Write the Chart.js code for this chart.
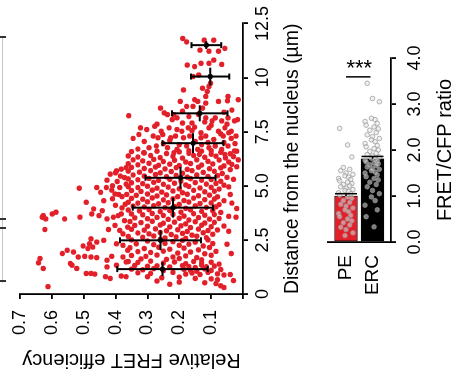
<!DOCTYPE html>
<html><head><meta charset="utf-8">
<script src="https://cdn.jsdelivr.net/npm/chart.js@4/dist/chart.umd.min.js"></script>
<style>
html,body{margin:0;padding:0;background:#fff;width:457px;height:383px;overflow:hidden;}
#rot{position:absolute;left:0;top:0;width:383px;height:457px;transform-origin:0 0;transform:translate(0,383px) rotate(-90deg);}
#sc{position:absolute;left:0;top:0;width:383px;height:305px;}
#bc{position:absolute;left:0;top:305px;width:383px;height:152px;}
.vl{position:absolute;left:2px;top:37px;width:1px;height:246px;background:#c8c8c8;}
.tk{position:absolute;left:0;width:6px;height:2px;background:#333;}
</style></head><body>
<div class="vl"></div><div class="tk" style="top:36px"></div><div class="tk" style="top:218px"></div><div class="tk" style="top:227px"></div><div class="tk" style="top:280px"></div>
<div id="rot"><div id="sc"><canvas id="c1" width="383" height="305"></canvas></div><div id="bc"><canvas id="c2" width="383" height="152"></canvas></div></div>
<script>
// ---------- data ----------
const distanceTickLabels = ["0","2.5","5.0","7.5","10","12.5"];
const fretTickLabels = ["","0.1","0.2","0.3","0.4","0.5","0.6","0.7"];
const ratioTickLabels = ["0.0","1.0","2.0","3.0","4.0"];
const groups = ["PE","ERC"];
const groupMeans = [1.0, 1.81];
const groupSEM = [0.05, 0.05];
const sigLineAt = 3.59, sigStarsAt = 3.9, sigLabel = "***";
const peValues = [2.47,2.11,1.85,1.62,1.58,1.55,1.5,1.47,1.44,1.41,1.38,1.36,1.33,1.3,1.27,1.25,1.22,1.2,1.17,1.14,1.12,1.1,1.07,1.05,1.02,0.98,0.95,0.9,0.86,0.82,0.78,0.74,0.7,0.66,0.62,0.58,0.55,0.5,0.46,0.42,0.37,0.32,0.27,0.2,0.14];
const ercValues = [3.45,3.12,3.05,2.69,2.66,2.62,2.58,2.54,2.5,2.46,2.43,2.38,2.33,2.29,2.25,2.22,2.18,2.14,2.1,2.07,2.03,2.0,1.97,1.93,1.9,1.87,1.85,1.82,1.8,1.78,1.76,1.74,1.72,1.7,1.68,1.66,1.63,1.6,1.58,1.55,1.52,1.5,1.46,1.42,1.38,1.35,1.3,1.25,1.2,1.12,1.05,0.98,0.9,0.8,0.7,0.55,0.33];
// binned means (distance µm, FRET) with SD
const binDistance = [11.5,10.05,8.35,6.97,5.37,3.99,2.48,1.15];
const binFret     = [0.115,0.103,0.136,0.157,0.196,0.22,0.259,0.253];
const binFretSD   = [0.047,0.06,0.087,0.096,0.11,0.126,0.127,0.142];
const binDistSD   = [0.18,0.41,0.37,0.46,0.5,0.46,0.46,0.32];
// single-cell points [distance, FRET]
const cellsFar = [[11.81,0.189],[11.65,0.177],[11.73,0.122],[11.73,0.092],[11.27,0.135],[11.22,0.107],[11.22,0.077],[11.35,0.057],[10.58,0.175],[10.51,0.152],[10.66,0.132],[10.66,0.107],[10.81,0.092],[10.61,0.067],[10.12,0.139],[10.05,0.157],[9.74,0.102],[9.43,0.187],[9.51,0.127],[9.36,0.112],[9.59,0.107],[8.98,0.152],[8.9,0.142],[9.13,0.117],[8.82,0.117],[9.13,0.047],[8.93,0.049],[8.9,0.077],[8.98,0.015],[8.9,0.197],[8.67,0.177],[8.67,0.157],[8.59,0.127],[8.59,0.259],[8.37,0.247],[8.29,0.237],[8.29,0.217],[8.14,0.207],[8.06,0.222],[8.24,0.359],[8.14,0.117],[8.0,0.097],[8.14,0.087],[8.0,0.067],[8.14,0.047],[8.0,0.027],[8.06,0.017],[7.68,0.322],[7.6,0.302],[7.75,0.277],[7.52,0.257],[7.68,0.232],[7.6,0.207],[7.52,0.192],[7.68,0.172],[7.71,0.152],[7.45,0.132],[7.68,0.107],[7.52,0.077],[7.68,0.057],[7.52,0.037],[7.19,0.345],[7.37,0.327],[7.3,0.282],[7.22,0.267],[7.37,0.252],[7.22,0.227],[7.3,0.212],[7.22,0.187],[7.3,0.167],[7.22,0.132],[7.3,0.117],[7.14,0.092],[7.3,0.062],[7.19,0.037],[7.3,0.022],[6.76,0.295],[6.84,0.272],[6.76,0.237],[6.68,0.207],[6.84,0.177],[6.68,0.142],[6.76,0.107],[6.84,0.087],[6.68,0.067],[6.84,0.047],[6.61,0.027],[6.53,0.312],[6.53,0.217],[6.45,0.137],[6.45,0.057],
[8.4,0.06],[8.5,0.035],[8.3,0.14],[7.9,0.16],[7.85,0.05],[7.95,0.12],[7.4,0.07],[7.45,0.045],[7.05,0.15],[7.0,0.11],[7.0,0.06],[6.95,0.025],[6.9,0.2],[6.95,0.25],[7.05,0.31],[7.85,0.27],[7.9,0.19],[8.45,0.19],[6.62,0.17],[6.62,0.1],[6.7,0.33],[7.1,0.23],[7.55,0.16],[7.8,0.1],[8.2,0.17],[6.9,0.13]];
const cellsLowFret = [[4.89,0.514],[3.62,0.627],[3.47,0.619],[3.55,0.63],[3.7,0.599],[3.78,0.587],[2.98,0.622],[3.47,0.56],[3.55,0.512],[4.24,0.492],[4.92,0.459],[4.7,0.447],[4.92,0.429],[4.31,0.437],[5.26,0.427],[4.8,0.412],[4.62,0.402],[5.54,0.417],[5.69,0.397],[5.77,0.382],[5.84,0.367],[5.38,0.372],[5.08,0.367],[4.92,0.387],[3.93,0.469],[3.7,0.475],[3.62,0.452],[3.85,0.442],[3.47,0.427],[3.55,0.407],[3.62,0.392],[3.7,0.382],[3.39,0.372],[3.09,0.362],[2.98,0.422],[3.17,0.402],[2.94,0.387],[2.78,0.377],[2.55,0.477],[2.32,0.482],[2.17,0.472],[2.1,0.487],[2.22,0.502],[2.4,0.459],[2.48,0.437],[2.32,0.397],[2.25,0.377],[2.02,0.362],[1.87,0.567],[2.02,0.552],[1.94,0.532],[1.71,0.517],[1.74,0.497],[1.71,0.477],[1.68,0.459],[1.56,0.427],[1.74,0.412],[1.33,0.397],[1.71,0.377],[1.48,0.367],[1.33,0.537],[1.18,0.522],[1.41,0.542],[1.64,0.637],[1.44,0.642],[1.18,0.627],[0.95,0.492],[0.95,0.477],[0.92,0.465],[1.25,0.427],[0.8,0.432],[0.72,0.417],[0.83,0.382],[0.8,0.367],[0.34,0.612],
[5.6,0.4],[5.2,0.395],[5.0,0.41],[4.5,0.38],[4.4,0.41],[4.1,0.4],[3.98,0.38],[4.15,0.37],[4.6,0.39],[5.45,0.385]];
const cellsCore = [
[6.58,0.35],[6.52,0.31],[6.6,0.27],[6.49,0.24],[6.57,0.2],[6.5,0.17],[6.6,0.13],[6.46,0.1],[6.55,0.07],[6.48,0.04],[6.6,0.02],
[6.38,0.36],[6.33,0.33],[6.4,0.29],[6.3,0.26],[6.36,0.22],[6.28,0.19],[6.4,0.155],[6.32,0.12],[6.37,0.085],[6.29,0.055],[6.35,0.03],
[6.2,0.345],[6.15,0.315],[6.22,0.28],[6.12,0.25],[6.18,0.215],[6.1,0.18],[6.2,0.145],[6.13,0.11],[6.19,0.075],[6.1,0.045],[6.2,0.015],
[6.02,0.36],[5.97,0.33],[6.04,0.295],[5.95,0.265],[6.0,0.23],[5.93,0.2],[6.03,0.165],[5.96,0.13],[6.01,0.095],[5.92,0.06],[5.99,0.035],
[5.85,0.35],[5.8,0.31],[5.87,0.275],[5.78,0.245],[5.84,0.21],[5.76,0.175],[5.86,0.14],[5.79,0.105],[5.83,0.07],[5.75,0.04],[5.88,0.02],
[5.68,0.36],[5.63,0.325],[5.7,0.29],[5.6,0.26],[5.66,0.225],[5.58,0.19],[5.7,0.16],[5.62,0.125],[5.67,0.09],[5.57,0.065],
[5.5,0.345],[5.45,0.31],[5.52,0.275],[5.42,0.24],[5.48,0.21],[5.4,0.175],[5.5,0.145],[5.43,0.11],[5.47,0.08],[5.39,0.05],
[5.32,0.36],[5.28,0.33],[5.34,0.295],[5.25,0.265],[5.3,0.23],[5.22,0.195],[5.33,0.165],[5.26,0.13],[5.29,0.1],[5.21,0.07],[5.3,0.03],
[5.14,0.35],[5.1,0.315],[5.16,0.28],[5.07,0.25],[5.12,0.215],[5.04,0.18],[5.15,0.15],[5.08,0.115],[5.11,0.085],[5.03,0.06],
[4.96,0.36],[4.92,0.33],[4.98,0.3],[4.89,0.27],[4.94,0.235],[4.86,0.2],[4.97,0.17],[4.9,0.135],[4.93,0.1],[4.85,0.075],[4.95,0.045],
[4.78,0.35],[4.74,0.32],[4.8,0.285],[4.71,0.255],[4.76,0.22],[4.68,0.19],[4.79,0.155],[4.72,0.12],[4.75,0.09],
[4.6,0.365],[4.56,0.335],[4.62,0.3],[4.53,0.27],[4.58,0.24],[4.5,0.205],[4.61,0.175],[4.54,0.14],[4.57,0.105],[4.49,0.08],[4.6,0.04],
[4.42,0.35],[4.38,0.315],[4.44,0.285],[4.35,0.25],[4.4,0.22],[4.32,0.185],[4.43,0.155],[4.36,0.12],[4.39,0.09],[4.31,0.06],
[4.24,0.36],[4.2,0.33],[4.26,0.3],[4.17,0.265],[4.22,0.235],[4.14,0.2],[4.25,0.17],[4.18,0.135],[4.21,0.1],[4.13,0.075],
[4.06,0.345],[4.02,0.31],[4.08,0.28],[3.99,0.245],[4.04,0.215],[3.96,0.18],[4.07,0.15],[4.0,0.115],[4.03,0.085],[3.95,0.02],
[3.88,0.36],[3.84,0.325],[3.9,0.295],[3.81,0.26],[3.86,0.23],[3.78,0.195],[3.89,0.165],[3.82,0.13],[3.85,0.095],[3.77,0.07],
[3.7,0.35],[3.66,0.315],[3.72,0.285],[3.63,0.25],[3.68,0.22],[3.6,0.185],[3.71,0.155],[3.64,0.12],[3.67,0.09],[3.59,0.045],
[3.52,0.34],[3.48,0.3],[3.54,0.27],[3.45,0.235],[3.5,0.2],[3.42,0.17],[3.53,0.14],[3.46,0.105],[3.49,0.075],
[3.35,0.355],[3.3,0.32],[3.36,0.285],[3.27,0.25],[3.32,0.215],[3.24,0.18],[3.34,0.15],[3.28,0.12],[3.31,0.09],
[3.17,0.34],[3.13,0.3],[3.19,0.26],[3.1,0.23],[3.15,0.195],[3.07,0.165],[3.18,0.13],[3.11,0.1],[3.14,0.06],
[2.99,0.35],[2.95,0.31],[3.01,0.275],[2.92,0.24],[2.97,0.205],[2.89,0.175],[3.0,0.14],[2.93,0.11],[2.96,0.08],
[2.82,0.33],[2.78,0.295],[2.84,0.26],[2.75,0.225],[2.8,0.19],[2.72,0.16],[2.83,0.125],[2.76,0.095],
[2.66,0.36],[2.62,0.315],[2.68,0.28],[2.59,0.245],[2.64,0.21],[2.57,0.18],[2.67,0.145],[2.6,0.115],
[2.5,0.35],[2.45,0.3],[2.52,0.26],[2.42,0.22],[2.48,0.19],[2.4,0.15],[2.5,0.11],
[2.32,0.335],[2.28,0.28],[2.34,0.245],[2.25,0.2],[2.3,0.17],[2.22,0.125],[2.33,0.095],
[2.14,0.355],[2.1,0.31],[2.16,0.265],[2.07,0.23],[2.12,0.185],[2.04,0.14],[2.15,0.105],
[1.96,0.33],[1.92,0.29],[1.98,0.25],[1.89,0.205],[1.94,0.165],[1.86,0.12],[1.97,0.085],
[1.78,0.35],[1.74,0.305],[1.8,0.27],[1.71,0.22],[1.76,0.18],[1.68,0.145],[1.79,0.1],
[1.62,0.32],[1.6,0.24],[1.64,0.2],[1.58,0.13],
[1.5,0.36],[1.46,0.33],[1.52,0.29],[1.43,0.25],[1.48,0.215],[1.4,0.18],[1.5,0.155],[1.44,0.13],[1.47,0.1],[1.38,0.075],
[1.32,0.34],[1.28,0.3],[1.3,0.27],[1.25,0.23],[1.31,0.19],[1.27,0.17],[1.22,0.15],[1.33,0.13],[1.26,0.115],[1.29,0.09],
[1.15,0.35],[1.12,0.315],[1.17,0.28],[1.08,0.25],[1.14,0.185],[1.1,0.165],[1.05,0.145],[1.16,0.12],[1.09,0.1],[1.13,0.07],
[0.98,0.33],[0.95,0.29],[1.0,0.22],[0.92,0.18],[0.97,0.16],[0.9,0.135],[1.0,0.11],[0.93,0.08],[0.88,0.06],
[0.8,0.3],[0.75,0.255],[0.78,0.2],[0.72,0.15],[0.7,0.1],[0.66,0.08],[0.6,0.27],[0.55,0.2],[0.52,0.12],[0.48,0.085],[0.38,0.07],[0.3,0.06],[0.62,0.03],[0.45,0.23],
[3.55,0.022],[1.87,0.037],[2.3,0.05],[4.2,0.035],[0.9,0.04],[2.9,0.045]];

// ---------- rendering ----------
const RED = '#e3202a';
Chart.defaults.font.family = '"Liberation Sans", Arial, sans-serif';
Chart.defaults.color = '#000';
const tickFont = {size:18, lineHeight:1};
const titleFont = {size:20, lineHeight:1.2};
const axisGrid = {display:true, drawOnChartArea:false, drawTicks:true, tickLength:5, color:'#000', lineWidth:1.8};
const axisBorder = {display:true, color:'#000', width:1.8};

const toPts = arr => arr.map(p => ({x:p[0], y:p[1]}));
const allCells = toPts(cellsCore.concat(cellsLowFret, cellsFar));
const binPts = binDistance.map((d,i)=>({x:d, y:binFret[i]}));

const scatterErr = {
  id:'scatterErr',
  afterDatasetsDraw(chart){
    const {ctx, scales:{x,y}} = chart;
    ctx.save(); ctx.strokeStyle='#000'; ctx.lineWidth=2; ctx.lineCap='butt';
    binDistance.forEach((d,i)=>{
      const cx = x.getPixelForValue(d), cy = y.getPixelForValue(binFret[i]);
      const y1 = y.getPixelForValue(binFret[i]-binFretSD[i]), y2 = y.getPixelForValue(binFret[i]+binFretSD[i]);
      const x1 = x.getPixelForValue(d-binDistSD[i]), x2 = x.getPixelForValue(d+binDistSD[i]);
      ctx.beginPath();
      ctx.moveTo(cx,y1); ctx.lineTo(cx,y2);
      ctx.moveTo(cx-3,y1); ctx.lineTo(cx+3,y1);
      ctx.moveTo(cx-3,y2); ctx.lineTo(cx+3,y2);
      ctx.moveTo(x1,cy); ctx.lineTo(x2,cy);
      ctx.stroke();
    });
    ctx.restore();
  }
};

new Chart(document.getElementById('c1'), {
  type:'scatter',
  data:{datasets:[
    {data:binPts, pointRadius:2.6, pointBackgroundColor:'#000', pointBorderWidth:0},
    {data:allCells, pointRadius:2.7, pointBackgroundColor:RED, pointBorderWidth:0}
  ]},
  options:{
    responsive:false, animation:false, events:[],
    layout:{padding:{top:9,right:22,left:0,bottom:0}},
    plugins:{legend:{display:false}, tooltip:{enabled:false}},
    scales:{
      x:{type:'linear', min:0, max:12.5,
         afterFit(s){ s.height = 62; },
         ticks:{stepSize:2.5, padding:6, font:tickFont, maxRotation:0, autoSkip:false, callback:(v,i)=>distanceTickLabels[i]},
         title:{display:true, text:'Distance from the nucleus (µm)', font:titleFont, padding:{top:0,bottom:1}},
         grid:axisGrid, border:axisBorder},
      y:{type:'linear', min:0, max:0.7,
         afterFit(s){ s.width = 89; },
         ticks:{stepSize:0.1, padding:11, font:tickFont, autoSkip:false, callback:(v,i)=>fretTickLabels[i]},
         title:{display:true, text:'Relative FRET efficiency', font:titleFont, padding:{top:11,bottom:0}},
         grid:axisGrid, border:axisBorder}
    }
  },
  plugins:[scatterErr]
});

// bar chart
const jitter = [-0.24,0.06,0.22,-0.1,0.14,-0.2,0.0,0.26,-0.04,0.1,-0.28,0.18];
const dotPts = [];
peValues.forEach((v,i)=>dotPts.push({x:v, y:0+jitter[i%jitter.length]}));
ercValues.forEach((v,i)=>dotPts.push({x:v, y:1+jitter[(i+5)%jitter.length]}));

const barDecor = {
  id:'barDecor',
  afterDatasetsDraw(chart){
    const {ctx, scales:{x,y}} = chart;
    ctx.save(); ctx.strokeStyle='#000'; ctx.lineWidth=1.5;
    groupMeans.forEach((m,i)=>{
      const yc = y.getPixelForValue(i), half = 11;
      const xm = x.getPixelForValue(m), xe = x.getPixelForValue(m+groupSEM[i]);
      ctx.beginPath();
      ctx.moveTo(xm,yc); ctx.lineTo(xe,yc);
      ctx.moveTo(xe,yc-half); ctx.lineTo(xe,yc+half);
      ctx.stroke();
    });
    const xl = x.getPixelForValue(sigLineAt);
    ctx.beginPath(); ctx.moveTo(xl, y.getPixelForValue(0)); ctx.lineTo(xl, y.getPixelForValue(1)-2); ctx.stroke();
    const fs = 22;
    ctx.translate(x.getPixelForValue(sigStarsAt), (y.getPixelForValue(0)+y.getPixelForValue(1))/2);
    ctx.rotate(Math.PI/2);
    ctx.font = fs+'px "Liberation Sans", Arial, sans-serif';
    ctx.fillStyle='#000'; ctx.textAlign='center'; ctx.textBaseline='alphabetic';
    ctx.fillText(sigLabel, 0, 0.58*fs);
    ctx.restore();
  }
};

new Chart(document.getElementById('c2'), {
  type:'bar',
  data:{datasets:[
    {type:'scatter', indexAxis:'x', data:dotPts, order:1, pointRadius:2.3, pointBorderWidth:0.8,
     pointBackgroundColor:'rgba(228,228,228,0.55)', pointBorderColor:'rgba(150,150,150,0.9)'},
    {type:'bar', indexAxis:'y', order:2, data:groupMeans.map((m,i)=>({x:m, y:i})),
     backgroundColor:[RED,'#000'], borderColor:['#3a1010','#000'], borderWidth:1, barThickness:23, borderSkipped:false}
  ]},
  options:{
    responsive:false, animation:false, events:[], indexAxis:'y',
    layout:{padding:{top:13,right:58,left:0,bottom:0}},
    plugins:{legend:{display:false}, tooltip:{enabled:false}},
    scales:{
      x:{type:'linear', min:0, max:4, offset:false, position:'bottom',
         afterFit(s){ s.height = 66; },
         ticks:{stepSize:1, padding:10, font:tickFont, maxRotation:0, autoSkip:false, callback:(v,i)=>ratioTickLabels[i]},
         title:{display:true, text:'FRET/CFP ratio', font:titleFont, padding:{top:0,bottom:0}},
         grid:Object.assign({}, axisGrid, {offset:false}), border:axisBorder},
      y:{type:'linear', min:-0.7, max:1.7, reverse:true, offset:false, position:'left',
         afterFit(s){ s.width = 141; },
         afterBuildTicks(s){ s.ticks = groups.map((g,i)=>({value:i})); },
         ticks:{padding:13, font:{size:19, lineHeight:1}, autoSkip:false, callback:(v)=>groups[v]},
         grid:{display:false, drawTicks:false, offset:false}, border:axisBorder}
    }
  },
  plugins:[barDecor]
});
</script>
</body></html>
